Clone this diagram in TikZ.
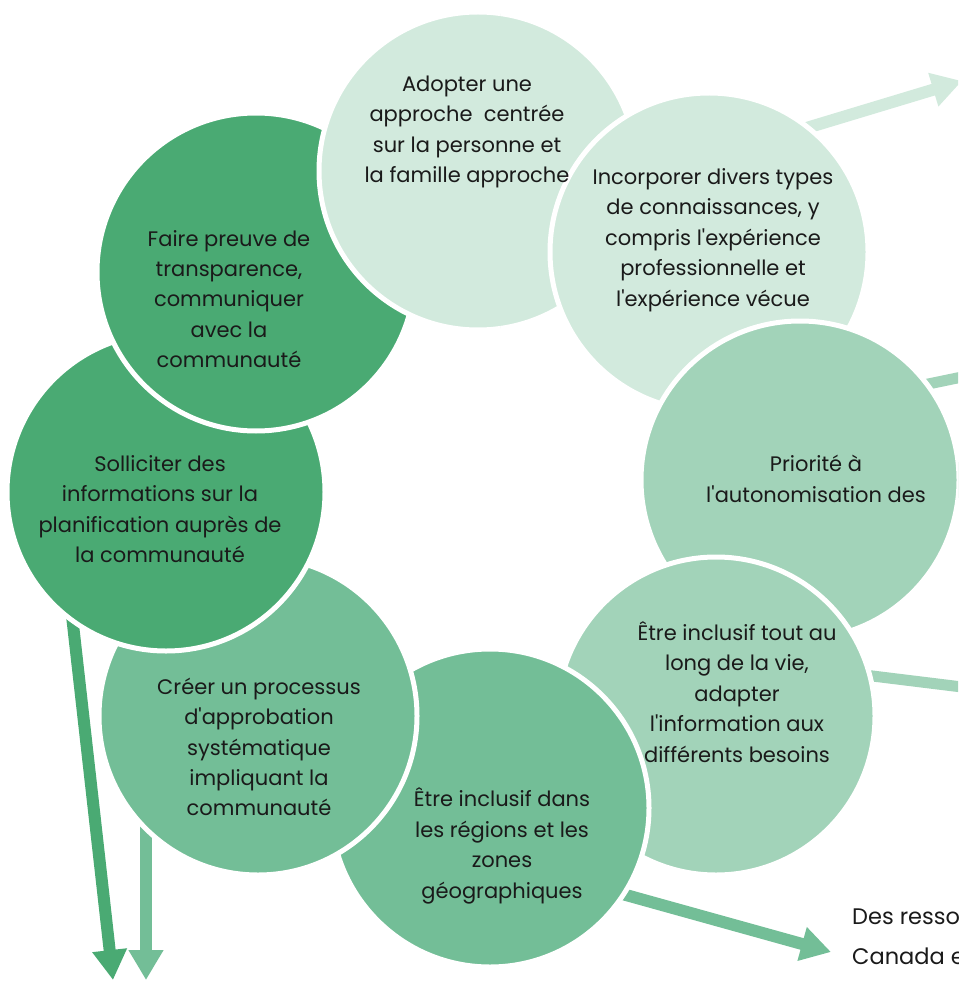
\documentclass[tikz,border=0pt]{standalone}
\usepackage{fontspec}
\setmainfont{Poppins}[Ligatures=TeXOff]
\usetikzlibrary{arrows.meta}
\definecolor{gA}{HTML}{D2EADD}
\definecolor{gB}{HTML}{A2D3B9}
\definecolor{gC}{HTML}{73BE97}
\definecolor{gD}{HTML}{4AAA73}
\definecolor{ink}{HTML}{1A1A1A}
\begin{document}
\begin{tikzpicture}[x=1pt,y=-1pt,
  circ/.style={circle,minimum size=318pt,inner sep=0pt,draw=white,line width=5pt,fill=#1},
  txt/.style={align=center,font=\fontsize{21}{30.4}\selectfont,text=ink,inner sep=0pt},
  conn/.style={draw=#1,line width=12pt,-{Triangle[width=33pt,length=30pt]}},
  bar/.style={draw=#1,line width=11pt}]
\useasboundingbox (0,0) rectangle (958,981);
\clip (0,0) rectangle (958,981);
% connector end points
\coordinate (a1s) at (770,139);
\coordinate (a1e) at (962,81);
\coordinate (b3s) at (880,394);
\coordinate (b3e) at (962,377);
\coordinate (b4s) at (840,672);
\coordinate (b4e) at (962,687);
\coordinate (a5s) at (590,885);
\coordinate (a5e) at (831,952);
\coordinate (a7s) at (68,580);
\coordinate (a7e) at (113,980);
\coordinate (a6s) at (146,780);
\coordinate (a6e) at (146,980);
% connectors (behind the circles)
\draw[conn=gA] (a1s) -- (a1e);
\draw[bar=gB] (b3s) -- (b3e);
\draw[bar=gB] (b4s) -- (b4e);
\draw[conn=gC] (a5s) -- (a5e);
\draw[conn=gD] (a7s) -- (a7e);
\draw[conn=gC] (a6s) -- (a6e);
% circles
\node[circ=gA] (c1) at (478,171) {};
\node[circ=gA] (c2) at (709,252) {};
\node[circ=gB] (c3) at (800,480) {};
\node[circ=gB] (c4) at (716,716) {};
\node[circ=gC] (c5) at (490,808) {};
\node[circ=gC] (c6) at (258,716) {};
\node[circ=gD] (c7) at (166,492) {};
\node[circ=gD] (c8) at (256,272) {};
\begin{scope}
\clip (0,0) rectangle (500,400);
\node[circ=gA] (c1top) at (478,171) {};
\end{scope}
% texts
\node[txt] (t1) at (467,132) {Adopter une\\approche\ \ centrée\\sur la personne et\\la famille approche};
\node[txt] (t2) at (713,240) {Incorporer divers types\\de connaissances, y\\compris l'expérience\\professionnelle et\\l'expérience vécue};
\node[txt] (t3) at (816,479) {Priorité à\\l'autonomisation des};
\node[txt] (t4) at (737,692) {Être inclusif tout au\\long de la vie,\\adapter\\l'information aux\\différents besoins};
\node[txt] (t5) at (502,846) {Être inclusif dans\\les régions et les\\zones\\géographiques};
\node[txt] (t6) at (259,747) {Créer un processus\\d'approbation\\systématique\\impliquant la\\communauté};
\node[txt] (t7) at (160,509) {Solliciter des\\informations sur la\\planification auprès de\\la communauté};
\node[txt] (t8) at (229,299) {Faire preuve de\\transparence,\\communiquer\\avec la\\communauté};
\node[align=left,anchor=west,inner sep=0pt,text=ink,font=\fontsize{22.5}{40}\selectfont] (src) at (852,937) {Des resso\\Canada e};
\end{tikzpicture}
\end{document}
